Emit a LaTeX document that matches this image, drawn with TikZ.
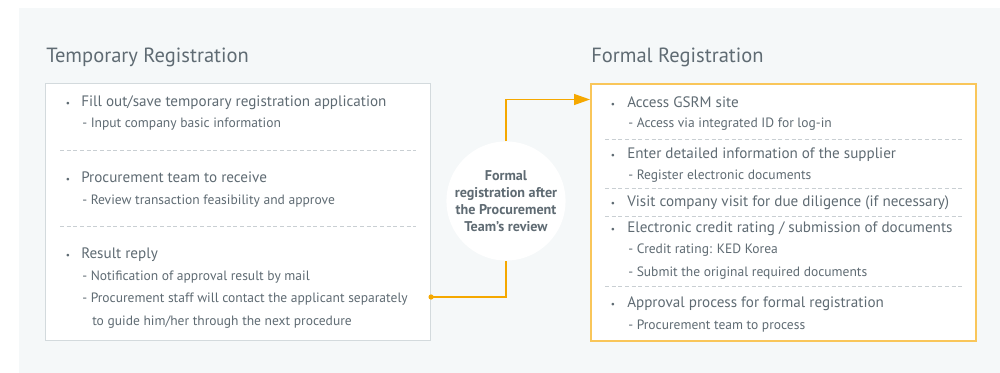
\documentclass[tikz,border=0pt]{standalone}
\usepackage{fontspec}
\setmainfont{PT Sans}
\usepackage{xcolor}
\usetikzlibrary{arrows.meta,positioning}

\definecolor{panelbg}{HTML}{F5F8F9}
\definecolor{txtgray}{HTML}{5F6B73}
\definecolor{boxgray}{HTML}{D3DADD}
\definecolor{dashgray}{HTML}{C9CFD3}
\definecolor{boxgold}{HTML}{F9C65A}
\definecolor{flowgold}{HTML}{F5A800}

\begin{document}
\begin{tikzpicture}[
  x=0.75pt, y=-0.75pt,
  heading/.style={anchor=base west, inner sep=0pt, text=txtgray, font=\fontsize{15.4}{18}\selectfont},
  item/.style={anchor=base west, inner sep=0pt, text=txtgray, font=\fontsize{11.35}{14}\selectfont},
  subitem/.style={anchor=base west, inner sep=0pt, text=txtgray, font=\fontsize{10.15}{13}\selectfont},
  dot/.style={anchor=base, inner sep=0pt, text=txtgray, font=\fontsize{7}{8}\selectfont},
  panel/.style={rectangle, draw, fill=white, anchor=north west, inner sep=0pt},
  divider/.style={dashgray, dash pattern=on 3pt off 2pt, line width=0.6pt},
  flow/.style={flowgold, line width=1pt}
]
% background and frame
\useasboundingbox (0,0) rectangle (1000,373);
\fill[panelbg] (19,8) rectangle (1000,373);

% titles
\node[heading] (temptitle) at (46,63) {Temporary Registration};
\node[heading] (formtitle) at (591,63) {Formal Registration};

% boxes
\node[panel, draw=boxgray, line width=0.8pt, minimum width=385*0.75pt, minimum height=257*0.75pt] (tempbox) at (45,83) {};
\node[panel, draw=boxgold, line width=1.2pt, minimum width=385*0.75pt, minimum height=257*0.75pt] (formbox) at (590,83) {};

% temporary registration
\node[dot] (tb1) at (68,106.5) {\textbullet};
\node[item] (t1) at (81,106.5) {Fill out/save temporary registration application};
\node[subitem] (t1a) at (82,128) {- Input company basic information};
\draw[divider] (60,150) -- (416,150);
\node[dot] (tb2) at (68,183) {\textbullet};
\node[item] (t2) at (81,183) {Procurement team to receive};
\node[subitem] (t2a) at (82,205) {- Review transaction feasibility and approve};
\draw[divider] (60,226) -- (416,226);
\node[dot] (tb3) at (68,259) {\textbullet};
\node[item] (t3) at (81,259) {Result reply};
\node[subitem] (t3a) at (82,281) {- Notification of approval result by mail};
\node[subitem] (t3b) at (82,303) {- Procurement staff will contact the applicant separately};
\node[subitem] (t3c) at (92,326) {to guide him/her through the next procedure};

% formal registration
\node[dot] (fb1) at (613,108) {\textbullet};
\node[item] (f1) at (627,108) {Access GSRM site};
\node[subitem] (f1a) at (628,128) {- Access via integrated ID for log-in};
\draw[divider] (605,139) -- (962,139);
\node[dot] (fb2) at (613,159) {\textbullet};
\node[item] (f2) at (627,159) {Enter detailed information of the supplier};
\node[subitem] (f2a) at (628,180) {- Register electronic documents};
\draw[divider] (605,188) -- (962,188);
\node[dot] (fb3) at (613,207) {\textbullet};
\node[item] (f3) at (627,207) {Visit company visit for due diligence (if necessary)};
\draw[divider] (605,216) -- (962,216);
\node[dot] (fb4) at (613,233) {\textbullet};
\node[item] (f4) at (627,233) {Electronic credit rating / submission of documents};
\node[subitem] (f4a) at (628,254) {- Credit rating: KED Korea};
\node[subitem] (f4b) at (628,277) {- Submit the original required documents};
\draw[divider] (605,286) -- (962,286);
\node[dot] (fb5) at (613,308) {\textbullet};
\node[item] (f5) at (627,308) {Approval process for formal registration};
\node[subitem] (f5a) at (628,330) {- Procurement team to process};

% review step
\node[circle, fill=white, minimum size=112*0.75pt, inner sep=0pt, align=center, text=txtgray,
  font=\bfseries\fontsize{10.6}{12.75}\selectfont] (review) at (506,201)
  {Formal\\registration after\\the Procurement\\Team’s review};
\coordinate (src) at (tempbox.east |- 0,297);
\coordinate (dst) at (formbox.west |- 0,99.5);
\draw[flow] (src) -| (review.south);
\draw[flow, -{Triangle[length=16*0.75pt, width=11*0.75pt]}] (review.north) |- (dst);
\fill[flowgold] (src) circle (2.6*0.75pt);
\end{tikzpicture}
\end{document}
